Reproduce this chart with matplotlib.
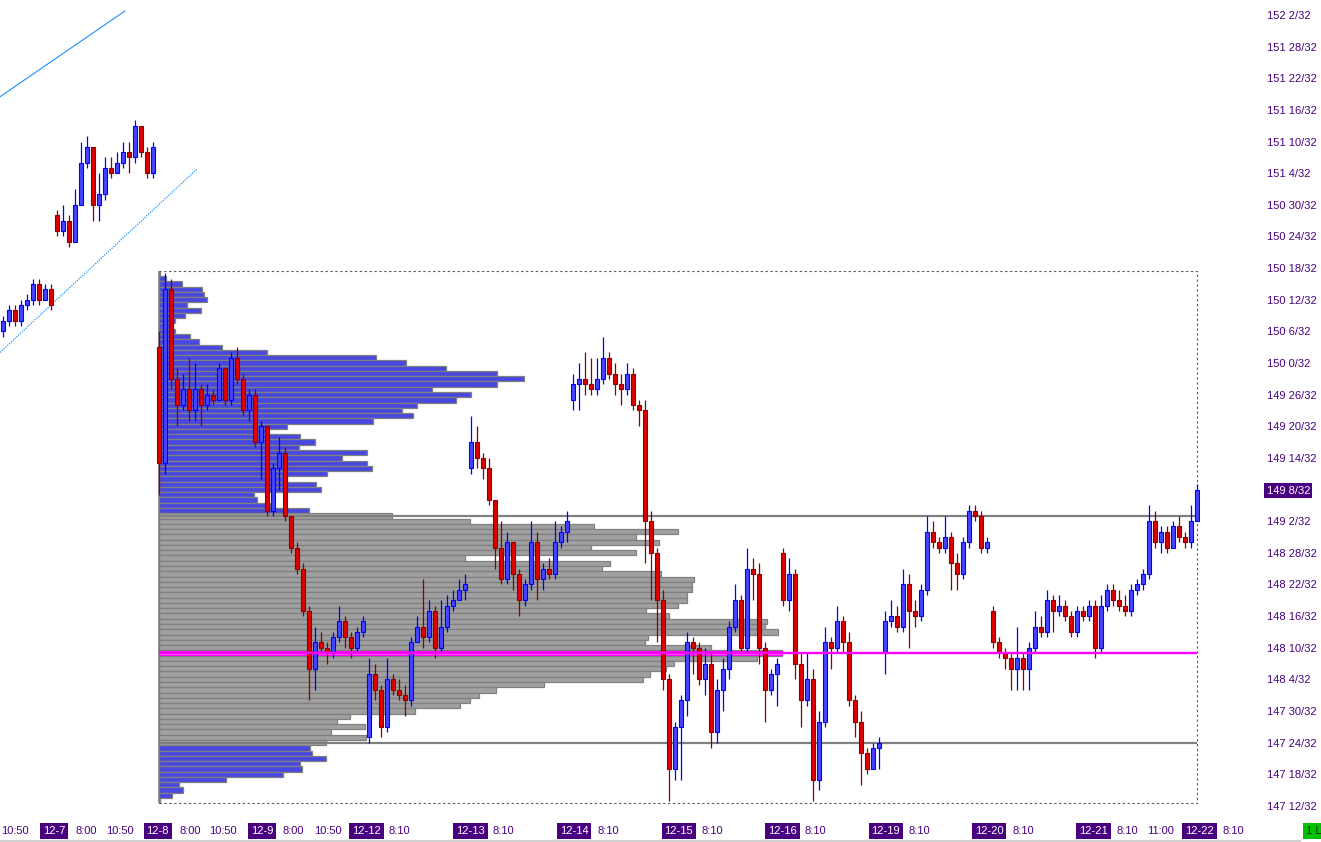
import matplotlib
matplotlib.use("Agg")
import matplotlib.pyplot as plt
import matplotlib.transforms as mtransforms
from matplotlib.patches import Rectangle
from matplotlib.lines import Line2D
import numpy as np

plt.rcParams['font.family'] = ['Liberation Sans', 'DejaVu Sans']

# Precios en 32avos por encima de 147 (p. ej. 72 -> 149 8/32)
closes = [104, 106, 104, 107, 108, 111, 108, 110, 107,
          121, 123, 119, 126, 134, 137, 126, 128, 133, 132, 134, 136, 135, 141, 136, 132, 137,
          77, 110, 93, 88, 91, 87, 91, 88, 90, 89, 95, 89, 97, 93, 87, 90, 81, 84, 68, 76, 79, 67,
          61, 57, 49, 38, 43, 42, 41, 44, 47, 44, 42, 45, 47,
          37, 34, 27, 36, 34, 33, 32, 43, 46, 44, 49, 42, 46, 50, 51, 53, 54,
          81, 78, 76, 70, 61, 55, 62, 56, 51, 54, 62, 55, 57, 56, 62, 64, 66,
          92, 93, 92, 91, 93, 97, 94, 92, 91, 94, 88, 87, 66, 60, 51, 36, 19, 27, 32, 43, 42, 36,
          39, 26, 34, 38, 46, 51, 42, 57, 56, 42, 34, 37, 39,
          51, 56, 39, 32, 36, 17, 28, 43, 42, 47, 43, 32, 28, 22, 19, 23, 24,
          47, 48, 46, 54, 49, 48, 53, 64, 62, 61, 63, 58, 56, 62, 68, 67, 61, 62,
          43, 41, 40, 38, 40, 38, 42, 46, 45, 51, 49, 50, 48, 45, 49, 48, 50, 42, 50, 53, 51, 50,
          49, 53, 54, 56, 66, 62, 64, 61, 65, 63, 62, 66, 72]
highs = [105, 107, 107, 108, 109, 112, 112, 111, 111,
         125, 126, 124, 129, 138, 139, 137, 132, 135, 135, 136, 138, 138, 142, 141, 137, 138,
         102, 113, 112, 95, 94, 97, 96, 92, 92, 91, 96, 95, 98, 99, 94, 91, 91, 85, 84, 77, 82, 80,
         67, 62, 58, 50, 46, 45, 43, 45, 50, 48, 45, 46, 48,
         40, 39, 35, 40, 37, 36, 35, 44, 48, 55, 51, 50, 51, 52, 53, 55, 56,
         86, 84, 79, 78, 70, 66, 64, 62, 57, 55, 66, 64, 58, 59, 66, 65, 68,
         94, 96, 98, 97, 97, 101, 98, 96, 94, 96, 95, 89, 89, 68, 61, 53, 37, 28, 33, 45, 44, 43,
         42, 41, 36, 40, 47, 54, 52, 61, 59, 58, 43, 38, 40,
         61, 59, 57, 41, 41, 38, 30, 46, 44, 50, 48, 45, 33, 30, 23, 24, 25,
         49, 51, 50, 57, 56, 51, 54, 67, 66, 63, 67, 64, 60, 63, 69, 69, 68, 63,
         50, 44, 42, 41, 46, 41, 43, 49, 48, 53, 52, 52, 51, 49, 50, 50, 51, 51, 52, 54, 54, 53,
         52, 54, 55, 57, 69, 68, 65, 65, 66, 67, 64, 69, 73]
lows = [101, 103, 103, 103, 106, 107, 107, 108, 106,
        120, 120, 118, 119, 126, 133, 123, 123, 127, 131, 132, 133, 132, 134, 135, 131, 131,
        71, 75, 91, 84, 87, 85, 85, 84, 87, 88, 89, 88, 88, 92, 86, 85, 80, 74, 67, 67, 72, 66,
        60, 56, 48, 32, 34, 41, 39, 40, 43, 42, 40, 41, 44,
        24, 32, 25, 26, 33, 32, 29, 31, 43, 42, 43, 40, 41, 45, 49, 51, 51,
        75, 76, 74, 69, 57, 54, 54, 53, 48, 50, 53, 51, 53, 55, 55, 61, 62,
        87, 87, 90, 90, 90, 92, 93, 90, 88, 90, 87, 84, 58, 51, 43, 34, 13, 17, 17, 29, 37, 35,
        33, 23, 24, 30, 36, 45, 41, 41, 51, 39, 28, 33, 31,
        50, 49, 36, 27, 31, 13, 15, 27, 38, 41, 41, 31, 25, 16, 18, 19, 19,
        37, 46, 45, 45, 42, 46, 47, 52, 61, 60, 60, 53, 53, 55, 61, 66, 60, 60,
        42, 40, 38, 34, 34, 34, 34, 41, 44, 44, 45, 48, 47, 44, 44, 47, 47, 40, 41, 49, 50, 49,
        48, 48, 52, 53, 55, 61, 60, 60, 61, 62, 61, 61, 66]
# aperturas de sesión (huecos); el resto abre en el cierre anterior
session_opens = {0: 102, 9: 124, 26: 99, 61: 25, 78: 76, 95: 89, 130: 60, 147: 41, 165: 49}

# Perfil de volumen, de 113 (150 17/32) hacia abajo hasta 13 (147 13/32)
profile_top = 113
profile_volume = [1, 7, 23, 43, 45, 48, 28, 42, 26, 16, 13, 16, 31, 40, 63, 108, 217, 247, 287, 338,
                  365, 338, 273, 312, 297, 258, 243, 254, 214, 128, 108, 141, 156, 140, 208, 183,
                  208, 213, 168, 128, 157, 162, 95, 98, 111, 150,
                  233, 311, 435, 519, 477, 500, 432, 477, 306, 451, 443, 502, 535, 533, 533, 528,
                  528, 519, 487, 510, 608, 606, 619, 489, 486, 552, 623, 598, 515, 507, 491, 484,
                  385, 337, 320, 311, 301, 256, 191, 178, 206, 172, 207, 167,
                  151, 153, 167, 141, 143, 124, 67, 20, 24, 13, 1]
value_area_high = 67   # 149 3/32
value_area_low = 24    # 147 24/32
profile_start = 26     # barra donde empieza el perfil

# Canal de tendencia (barra, precio)
channel_x = [-0.5, 20.3]
channel_upper = [146.5, 162.75]
channel_x2 = [-0.5, 32.3]
channel_lower = [98.0, 132.75]

# Escala de precios y etiquetas de tiempo
price_ticks = list(range(12, 163, 6))
last_price = 72
time_labels = ["10:50", "12-7", "8:00", "10:50", "12-8", "8:00", "10:50", "12-9", "8:00", "10:50",
               "12-12", "8:10", "12-13", "8:10", "12-14", "8:10", "12-15", "8:10", "12-16", "8:10",
               "12-19", "8:10", "12-20", "8:10", "12-21", "8:10", "11:00", "12-22", "8:10"]
time_pos = [2.0, 8.5, 13.8, 19.5, 25.8, 31.2, 36.7, 43.2, 48.4, 54.2,
            60.6, 66.1, 77.9, 83.4, 95.2, 100.9, 112.6, 118.2, 129.9, 135.4,
            147.1, 152.75, 164.4, 170.1, 181.75, 187.4, 192.9, 199.4, 205.1]

purple = '#48007F'


def fmt32(t):
    return f"{147 + t // 32} {t % 32}/32"


fig = plt.figure(figsize=(13.21, 8.42), dpi=100)
ax = fig.add_axes([0, 27 / 842, 1200 / 1321, 815 / 842])
ax.set_xlim(-0.5, 199.5)
ax.set_ylim(10.28, 164.85)

c = np.array(closes, dtype=float)
h = np.array(highs, dtype=float)
l = np.array(lows, dtype=float)
o = np.array([session_opens.get(i, closes[i - 1] if i else closes[0]) for i in range(len(closes))],
             dtype=float)
x = np.arange(len(c))
last_x = x[-1]

# perfil de volumen
vol = np.array(profile_volume, dtype=float)
rows = profile_top - np.arange(len(vol))
widths = vol / vol.max() * (623 / 6)
in_va = (rows >= value_area_low) & (rows <= value_area_high)
ax.barh(rows[~in_va], widths[~in_va], left=profile_start, height=1.0,
        color='#4848E0', edgecolor='#808080', linewidth=0.9, zorder=1)
ax.barh(rows[in_va], widths[in_va], left=profile_start, height=1.0,
        color='#A0A0A0', edgecolor='#808080', linewidth=0.9, zorder=1)
poc = rows[np.argmax(vol)]
ax.barh(poc, widths.max(), left=profile_start, height=0.75,
        color='#FF60FF', edgecolor='#FF00FF', linewidth=0.8, zorder=2)

# marco del perfil
top = rows.max() + 0.5
bottom = rows.min() - 0.5
ax.add_patch(Rectangle((profile_start, bottom), last_x - profile_start, top - bottom,
                       fill=False, edgecolor='#606060', linewidth=0.8,
                       linestyle=(0, (2.2, 2.2)), zorder=2))
ax.vlines(profile_start, bottom, top, color='#808080', linewidth=1.2, zorder=2)

# líneas del área de valor y POC
ax.hlines([value_area_high, value_area_low], profile_start, last_x,
          colors='#808080', linewidth=1.6, zorder=2)
ax.hlines(poc, profile_start, last_x, colors='#FF00FF', linewidth=1.7, zorder=6)

# canal
ax.plot(channel_x, channel_upper, color='#1E90FF', linewidth=0.8, zorder=2)
ax.plot(channel_x2, channel_lower, color='#1E90FF', linewidth=0.9, linestyle=(0, (1, 1)), zorder=2)

# velas
up = c >= o
body_lo = np.minimum(o, c)
body_h = np.maximum(np.abs(c - o), 0.35)
ax.vlines(x[up], l[up], h[up], color='#0000FF', linewidth=0.9, zorder=4)
ax.vlines(x[~up], l[~up], h[~up], color='#8B0000', linewidth=0.9, zorder=4)
ax.bar(x[up], body_h[up], bottom=body_lo[up], width=0.6,
       color='#4545FF', edgecolor='#0000FF', linewidth=0.8, zorder=5)
ax.bar(x[~up], body_h[~up], bottom=body_lo[~up], width=0.6,
       color='#DD0000', edgecolor='#8B0000', linewidth=0.8, zorder=5)

# eje de precios a la derecha
for s in ax.spines.values():
    s.set_visible(False)
ax.set_xticks([])
ax.yaxis.tick_right()
ax.set_yticks(price_ticks, [fmt32(t) for t in price_ticks])
ax.tick_params(axis='y', length=0, pad=48, labelsize=8, labelcolor=purple)
for lbl in ax.get_yticklabels():
    if lbl.get_text() == fmt32(last_price):
        lbl.set_color('white')
        lbl.set_bbox(dict(boxstyle='square,pad=0.2', fc=purple, ec='none'))

# etiquetas de tiempo
trans = mtransforms.blended_transform_factory(ax.transData, ax.transAxes)
for lab, pos in zip(time_labels, time_pos):
    if '-' in lab:
        ax.text(pos, -0.0196, lab, transform=trans, ha='center', va='center', fontsize=8,
                color='white', clip_on=False,
                bbox=dict(boxstyle='square,pad=0.25', fc=purple, ec='none'))
    else:
        ax.text(pos, -0.0196, lab, transform=trans, ha='center', va='center', fontsize=8,
                color=purple, clip_on=False)

fig.text(1306 / 1321, 11 / 842, '1 L', ha='left', va='center', fontsize=8, color='#003300',
         bbox=dict(boxstyle='square,pad=0.25', fc='#00C000', ec='none'))
fig.add_artist(Line2D([0, 1300 / 1321], [1 / 842, 1 / 842], transform=fig.transFigure,
                      color='#D0D0D0', linewidth=1.5))

fig.savefig('out.png', dpi=100)
